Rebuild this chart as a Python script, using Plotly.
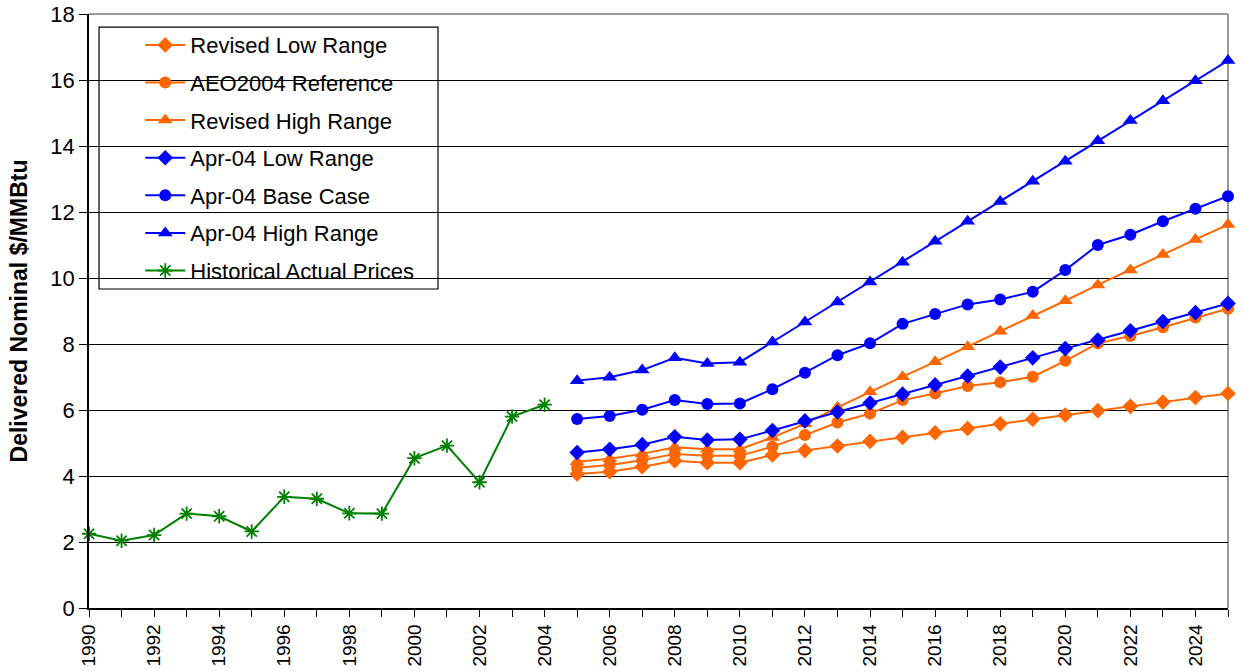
import plotly.graph_objects as go

# Historical delivered prices, 1990-2004
hist_years = list(range(1990, 2005))
hist_prices = [2.25, 2.04, 2.21, 2.86, 2.78, 2.32, 3.37, 3.31, 2.87, 2.86,
               4.54, 4.92, 3.81, 5.80, 6.16]

# Forecast years, 2005-2025
fc_years = list(range(2005, 2026))

revised_low = [4.06, 4.13, 4.28, 4.46, 4.40, 4.40, 4.64, 4.77, 4.91, 5.05,
               5.17, 5.31, 5.44, 5.58, 5.72, 5.85, 5.98, 6.11, 6.24, 6.38, 6.50]
aeo2004_ref = [4.25, 4.33, 4.48, 4.67, 4.61, 4.61, 4.89, 5.24, 5.62, 5.89,
               6.30, 6.50, 6.73, 6.84, 7.01, 7.49, 8.02, 8.24, 8.51, 8.80, 9.07]
revised_high = [4.43, 4.52, 4.67, 4.87, 4.81, 4.81, 5.17, 5.58, 6.08, 6.55,
                7.01, 7.46, 7.92, 8.39, 8.86, 9.31, 9.79, 10.24, 10.71, 11.17, 11.62]
apr04_low = [4.71, 4.81, 4.95, 5.19, 5.09, 5.11, 5.38, 5.67, 5.94, 6.21,
             6.48, 6.76, 7.03, 7.30, 7.58, 7.86, 8.12, 8.40, 8.68, 8.95, 9.23]
apr04_base = [5.73, 5.82, 6.01, 6.30, 6.18, 6.20, 6.63, 7.13, 7.66, 8.02,
              8.61, 8.91, 9.20, 9.35, 9.58, 10.24, 11.00, 11.31, 11.72, 12.10, 12.48]
apr04_high = [6.89, 6.99, 7.21, 7.58, 7.41, 7.45, 8.06, 8.67, 9.27, 9.88,
              10.48, 11.11, 11.72, 12.32, 12.93, 13.54, 14.16, 14.77, 15.37, 15.98, 16.59]

y_ticks = [0, 2, 4, 6, 8, 10, 12, 14, 16, 18]
x_label_years = list(range(1990, 2026, 2))

ORANGE = "#FF6600"
BLUE = "#0000FF"
GREEN = "#008000"
FONT = "Liberation Sans, Arial, sans-serif"

series = [
    ("Revised Low Range", fc_years, revised_low, ORANGE, "diamond", 12),
    ("AEO2004 Reference", fc_years, aeo2004_ref, ORANGE, "circle", 12),
    ("Revised High Range", fc_years, revised_high, ORANGE, "triangle-up", 13),
    ("Apr-04 Low Range", fc_years, apr04_low, BLUE, "diamond", 12),
    ("Apr-04 Base Case", fc_years, apr04_base, BLUE, "circle", 12),
    ("Apr-04 High Range", fc_years, apr04_high, BLUE, "triangle-up", 13),
    ("Historical Actual Prices", hist_years, hist_prices, GREEN, "asterisk", 12),
]

fig = go.Figure()
for i, (name, xs, ys, color, symbol, size) in enumerate(series):
    marker = dict(symbol=symbol, size=size, color=color)
    if symbol == "asterisk":
        marker["line"] = dict(color=color, width=1.8)
    fig.add_trace(go.Scatter(
        x=xs, y=ys, name=name, mode="lines+markers",
        line=dict(color=color, width=2),
        marker=marker, cliponaxis=False, legendgroup=f"g{i}",
    ))

# Legend frame
fig.add_shape(type="rect", xref="paper", yref="paper",
              x0=0.0088, x1=0.3064, y0=0.537, y1=0.978,
              line=dict(color="black", width=1.2), fillcolor="white",
              layer="between")

fig.update_layout(
    width=1242, height=671,
    margin=dict(l=89, r=14, t=14, b=63),
    paper_bgcolor="white", plot_bgcolor="white",
    font=dict(family=FONT, size=20, color="black"),
    showlegend=True,
    legend=dict(
        x=0.045, y=0.983, xanchor="left", yanchor="top",
        bgcolor="rgba(0,0,0,0)", borderwidth=0,
        font=dict(family=FONT, size=22, color="black"),
        tracegroupgap=6, traceorder="grouped", itemwidth=40,
    ),
    xaxis=dict(
        range=[1990, 2025], tickmode="array", tickvals=x_label_years,
        ticktext=[str(y) for y in x_label_years], tickangle=-90,
        tickfont=dict(family=FONT, size=19),
        ticks="outside", ticklen=7, tickcolor="black", automargin=False,
        minor=dict(dtick=1, tick0=1990, ticks="outside", ticklen=7, tickcolor="black", showgrid=False),
        showgrid=False, showline=True, linecolor="black", linewidth=1.5,
        mirror=False, zeroline=False,
    ),
    yaxis=dict(
        range=[0, 18], tickmode="array", tickvals=y_ticks,
        tickfont=dict(family=FONT, size=22),
        ticks="outside", ticklen=8, tickcolor="black", automargin=False,
        showgrid=True, gridcolor="black", gridwidth=1,
        showline=True, linecolor="black", linewidth=1.5, zeroline=False,
        title=dict(text="<b>Delivered Nominal $/MMBtu</b>", standoff=16,
                   font=dict(family=FONT, size=23)),
    ),
)

# Grey top and right frame of the plot area
fig.add_shape(type="line", xref="paper", yref="paper", x0=0, x1=1, y0=1, y1=1,
              line=dict(color="#999999", width=2), layer="between")
fig.add_shape(type="line", xref="paper", yref="paper", x0=1, x1=1, y0=0, y1=1,
              line=dict(color="#999999", width=2), layer="between")

fig.write_html("out.html")
